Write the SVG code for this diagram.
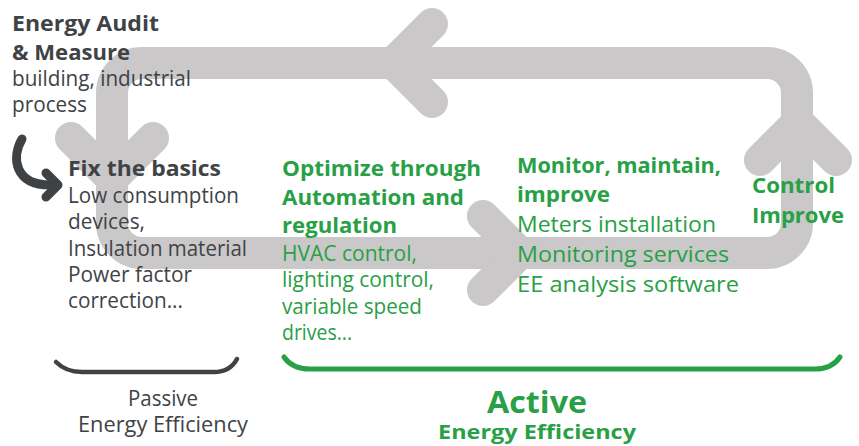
<svg xmlns="http://www.w3.org/2000/svg" width="859" height="446" viewBox="0 0 859 446">
<style>
.band{fill:none;stroke:#cac8c9;stroke-width:32;stroke-linecap:round;stroke-linejoin:round}
.hook{fill:none;stroke:#3f4245;stroke-width:9;stroke-linecap:round;stroke-linejoin:round}
.br{fill:none;stroke-linecap:round}
text{font-family:"Open Sans","Liberation Sans",sans-serif}
.b{font-weight:700;font-size:21px}
.r{font-weight:400;font-size:21px}
.dk{fill:#404346}
.gr{fill:#28a046}
</style>
<rect width="859" height="446" fill="#ffffff"/>
<g id="connectors">
<path class="band" d="M142,63 H767 A30,30 0 0 1 797,93 V223 A30,30 0 0 1 767,253 H142 A30,30 0 0 1 112,223 V93 A30,30 0 0 1 142,63 Z"/>
<polyline class="band" points="432,24 393,63 432,102"/>
<polyline class="band" points="483,216 520,253 483,290"/>
<polyline class="band" points="760,160 798,122 836,160"/>
<polyline class="band" points="71,138 112,179 153,138"/>
<path class="hook" d="M22,139 C11,158 15,185 50,185"/>
<polyline class="hook" points="46,173 58,185 46,197"/>
</g>
<g id="brackets">
<path class="br" stroke="#404346" stroke-width="4.5" d="M56,362 Q66,372 82,372 H214 Q230,372 237,359"/>
<path class="br" stroke="#28a046" stroke-width="5" d="M284,357 Q292,369 310,369 H815 Q832,369 840,357"/>
</g>
<g id="audit" class="dk">
<text class="b" x="12" y="31" textLength="147" lengthAdjust="spacingAndGlyphs">Energy Audit</text>
<text class="b" x="12" y="60" textLength="118" lengthAdjust="spacingAndGlyphs">&amp; Measure</text>
<text class="r" x="12" y="86" textLength="179" lengthAdjust="spacingAndGlyphs">building, industrial</text>
<text class="r" x="12" y="112" textLength="75" lengthAdjust="spacingAndGlyphs">process</text>
</g>
<g id="basics" class="dk">
<text class="b" x="68" y="176" textLength="153" lengthAdjust="spacingAndGlyphs">Fix the basics</text>
<text class="r" x="68" y="203" textLength="171" lengthAdjust="spacingAndGlyphs">Low consumption</text>
<text class="r" x="68" y="229" textLength="77" lengthAdjust="spacingAndGlyphs">devices,</text>
<text class="r" x="68" y="256" textLength="179" lengthAdjust="spacingAndGlyphs">Insulation material</text>
<text class="r" x="68" y="282" textLength="124" lengthAdjust="spacingAndGlyphs">Power factor</text>
<text class="r" x="68" y="308" textLength="115" lengthAdjust="spacingAndGlyphs">correction...</text>
</g>
<g id="optimize" class="gr">
<text class="b" x="282" y="176" textLength="199" lengthAdjust="spacingAndGlyphs">Optimize through</text>
<text class="b" x="282" y="205" textLength="182" lengthAdjust="spacingAndGlyphs">Automation and</text>
<text class="b" x="282" y="233" textLength="115" lengthAdjust="spacingAndGlyphs">regulation</text>
<text class="r" x="282" y="261" textLength="135" lengthAdjust="spacingAndGlyphs">HVAC control,</text>
<text class="r" x="282" y="287" textLength="152" lengthAdjust="spacingAndGlyphs">lighting control,</text>
<text class="r" x="282" y="314" textLength="140" lengthAdjust="spacingAndGlyphs">variable speed</text>
<text class="r" x="282" y="340" textLength="70" lengthAdjust="spacingAndGlyphs">drives...</text>
</g>
<g id="monitor" class="gr">
<text class="b" x="517" y="173" textLength="204" lengthAdjust="spacingAndGlyphs">Monitor, maintain,</text>
<text class="b" x="517" y="202" textLength="93" lengthAdjust="spacingAndGlyphs">improve</text>
<text class="r" x="517" y="232" textLength="199" lengthAdjust="spacingAndGlyphs">Meters installation</text>
<text class="r" x="517" y="262" textLength="212" lengthAdjust="spacingAndGlyphs">Monitoring services</text>
<text class="r" x="517" y="292" textLength="222" lengthAdjust="spacingAndGlyphs">EE analysis software</text>
</g>
<g id="control" class="gr">
<text class="b" x="752" y="193" textLength="83" lengthAdjust="spacingAndGlyphs">Control</text>
<text class="b" x="752" y="223" textLength="92" lengthAdjust="spacingAndGlyphs">Improve</text>
</g>
<g id="passive" class="dk">
<text class="r" x="163" y="406" text-anchor="middle" textLength="70" lengthAdjust="spacingAndGlyphs">Passive</text>
<text class="r" x="163" y="432" text-anchor="middle" textLength="170" lengthAdjust="spacingAndGlyphs">Energy Efficiency</text>
</g>
<g id="active" class="gr">
<text x="537" y="413" text-anchor="middle" style="font-weight:700;font-size:30px" textLength="100" lengthAdjust="spacingAndGlyphs">Active</text>
<text x="537" y="439" text-anchor="middle" style="font-weight:700;font-size:19px" textLength="198" lengthAdjust="spacingAndGlyphs">Energy Efficiency</text>
</g>
</svg>
